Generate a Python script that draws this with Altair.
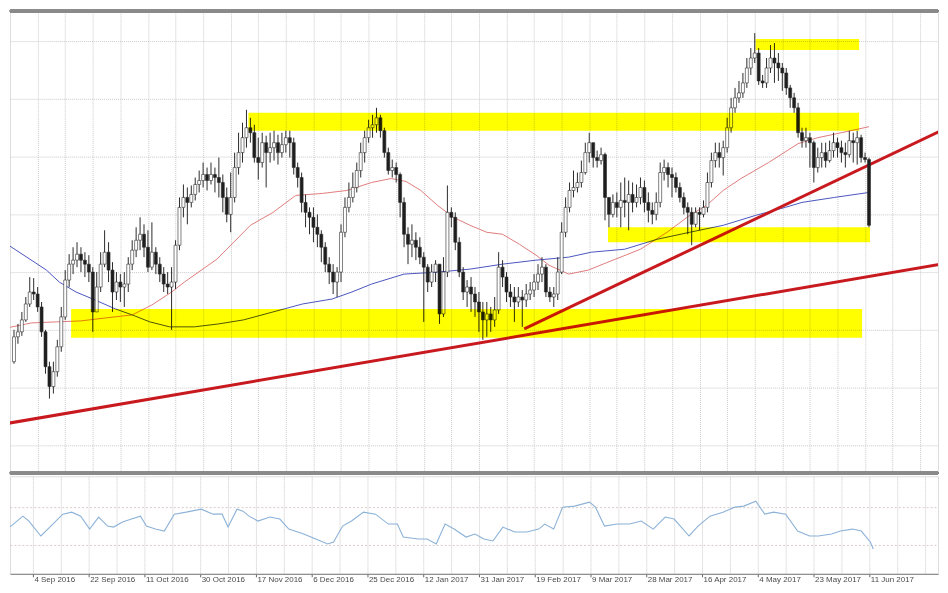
import altair as alt
import pandas as pd

# ---------------- data ----------------
FIRST_BAR = -6          # bar index of the first visible candle (0 = "4 Sep 2016")
FIRST_OPEN = 140

close = [
    165, 170, 182, 198, 210, 208, 195, 170, 135, 115,
    130, 155, 185, 222, 238, 242, 248, 242, 238, 230,
    190, 215, 238, 250, 232, 210, 220, 215, 218, 238,
    252, 262, 268, 255, 235, 250, 238, 228, 218, 215,
    220, 257, 295, 305, 300, 308, 318, 322, 328, 322,
    328, 325, 320, 305, 288, 305, 335, 350, 365, 375,
    370, 345, 340, 360, 350, 355, 360, 350, 358, 365,
    360, 335, 325, 300, 290, 285, 275, 268, 255, 238,
    230, 220, 230, 270, 295, 305, 315, 332, 350, 365,
    375, 378, 385, 372, 350, 332, 335, 328, 300, 268,
    258, 262, 255, 245, 235, 220, 230, 238, 188, 230,
    290, 285, 260, 230, 210, 215, 208, 200, 190, 182,
    188, 182, 192, 235, 225, 210, 205, 200, 205, 202,
    208, 212, 220, 228, 235, 210, 205, 208, 230, 270,
    295, 312, 315, 320, 330, 350, 360, 345, 342, 348,
    305, 288, 300, 295, 302, 300, 308, 300, 305, 315,
    300, 292, 288, 300, 330, 335, 328, 325, 315, 305,
    295, 290, 278, 290, 288, 295, 320, 342, 350, 345,
    355, 375, 395, 405, 410, 420, 435, 445, 450, 422,
    420, 435, 445, 440, 435, 430, 415, 405, 395, 370,
    362, 365, 360, 335, 345, 350, 342, 352, 360, 355,
    350, 348, 362, 360, 365, 345, 343, 277,
]
high = [
    172, 178, 190, 205, 225, 224, 215, 200, 172, 140,
    140, 162, 195, 232, 248, 255, 260, 255, 250, 247,
    235, 230, 250, 272, 260, 240, 230, 228, 230, 245,
    262, 275, 285, 278, 272, 280, 255, 245, 235, 230,
    235, 262, 305, 318, 315, 317, 325, 332, 340, 335,
    340, 335, 345, 328, 315, 330, 350, 370, 380, 393,
    385, 378, 365, 370, 367, 370, 372, 368, 370, 372,
    372, 365, 340, 330, 308, 295, 295, 288, 272, 260,
    245, 238, 235, 278, 305, 320, 330, 340, 360, 372,
    383, 388, 395, 388, 375, 355, 343, 340, 330, 305,
    275, 278, 270, 265, 250, 238, 238, 242, 238, 245,
    317, 295, 290, 265, 235, 222, 225, 215, 210, 200,
    200, 195, 205, 250, 242, 230, 218, 215, 215, 212,
    218, 220, 228, 238, 245, 238, 215, 215, 245, 280,
    305, 320, 332, 330, 342, 360, 370, 360, 352, 355,
    350, 305, 308, 310, 320, 325, 322, 320, 318, 325,
    322, 310, 300, 310, 340, 343, 340, 335, 330, 320,
    310, 300, 295, 295, 295, 302, 330, 350, 360, 360,
    362, 385, 405, 415, 422, 430, 445, 455, 470, 455,
    428, 445, 458, 460, 450, 440, 435, 418, 410, 400,
    375, 375, 370, 362, 355, 360, 360, 362, 370, 365,
    362, 360, 372, 370, 372, 368, 350, 345,
]
low = [
    138, 158, 166, 180, 195, 202, 190, 165, 128, 103,
    108, 125, 150, 182, 215, 228, 235, 230, 225, 220,
    170, 195, 210, 235, 220, 190, 202, 200, 195, 210,
    232, 245, 252, 245, 230, 232, 228, 220, 210, 208,
    172, 213, 252, 285, 278, 295, 302, 310, 315, 312,
    318, 310, 305, 290, 280, 270, 300, 328, 340, 355,
    360, 340, 323, 335, 315, 340, 342, 338, 345, 350,
    345, 328, 315, 290, 275, 268, 260, 255, 240, 230,
    218, 208, 205, 220, 265, 290, 300, 310, 325, 340,
    360, 365, 370, 365, 345, 328, 325, 320, 285, 255,
    238, 245, 242, 238, 180, 210, 215, 220, 178, 185,
    225, 275, 252, 225, 202, 195, 190, 185, 170, 162,
    165, 170, 175, 188, 215, 200, 195, 180, 195, 175,
    195, 202, 205, 212, 220, 205, 200, 195, 202, 228,
    265, 290, 305, 310, 315, 328, 340, 335, 335, 338,
    282, 275, 285, 285, 275, 285, 272, 290, 295, 298,
    290, 280, 278, 282, 295, 322, 315, 305, 310, 300,
    288, 268, 257, 275, 272, 285, 290, 315, 335, 335,
    327, 350, 370, 390, 400, 405, 415, 428, 440, 418,
    415, 415, 430, 420, 422, 412, 408, 395, 390, 365,
    355, 355, 335, 320, 330, 335, 335, 340, 345, 345,
    340, 335, 345, 340, 338, 340, 340, 275,
]

date_labels = [
    "4 Sep 2016", "22 Sep 2016", "11 Oct 2016", "30 Oct 2016", "17 Nov 2016",
    "6 Dec 2016", "25 Dec 2016", "12 Jan 2017", "31 Jan 2017", "19 Feb 2017",
    "9 Mar 2017", "28 Mar 2017", "16 Apr 2017", "4 May 2017", "23 May 2017",
    "11 Jun 2017",
]
BARS_PER_LABEL = 14

# fast moving average (red)
fast_ma_bar = [-7.75, -1.5, 4.75, 11, 17.25, 24, 29, 34, 37.25, 45.5,
               54, 59.75, 65.5, 72.25, 78.5, 84.75, 89.75, 93.5, 97.25, 101.5,
               105.5, 109.75, 114, 118, 122.25, 126.5, 129.75, 134.75, 139.75, 144.75,
               153, 159.75, 165.5, 169.75, 174, 178.5, 185.5, 193, 198, 204, 211]
fast_ma_val = [174, 179, 180, 181, 184, 187, 197, 210, 220, 243,
               277, 290, 307, 309, 312, 320, 324, 321, 312, 297,
               285, 277, 270, 268, 258, 247, 237, 228, 232, 240,
               253, 270, 287, 297, 312, 324, 340, 359, 365, 370, 376]

# slow moving average (blue)
slow_ma_bar = [-7.75, -2.75, 2.25, 5.5, 9.75, 14, 19.75, 24, 28.5, 33.5,
               39.75, 46, 52.25, 59.75, 67.25, 74.75, 79.75, 84.75, 93, 101.5,
               109.75, 118, 126.5, 134.75, 140.5, 149, 157.25, 165.5, 174, 182.25,
               189.75, 194, 202.25, 211]
slow_ma_val = [258, 245, 232, 220, 210, 203, 193, 187, 180, 175,
               175, 178, 182, 190, 198, 203, 210, 218, 228, 230,
               233, 238, 242, 245, 250, 253, 263, 270, 277, 287,
               295, 300, 305, 310]

# trend lines
trend_start_bar = [-7.75, 123.5]
trend_start_val = [78, 173]
trend_end_bar = [229.25, 229.25]
trend_end_val = [238, 372]

# highlighted (yellow) zones
zone_from_bar = [182.25, 53.5, 144.75, 8.5]
zone_to_bar = [208.5, 208.5, 211.25, 209.25]
zone_low = [453, 372, 260, 164]
zone_high = [464, 390, 275, 193]

# oscillator (lower panel)
rsi_bar = [-7.75, -5.5, -2.5, -1, 2, 4.25, 7.5, 9.75, 12, 14.25,
           16.5, 18.75, 20.25, 22.5, 24.75, 27, 28.5, 30.75, 33, 35.5,
           38.5, 42.25, 45.25, 47.5, 49, 51.25, 52.75, 54.25, 56.5, 59.5,
           62, 64.25, 68, 71, 74, 75.5, 77.75, 80, 83, 86,
           89.25, 91.5, 93, 96.75, 99, 101.25, 103.5, 105.75, 108.75, 111,
           113.25, 115.5, 118, 121, 124, 127, 128.5, 130.75, 133, 136,
           139.75, 141.25, 143.5, 146.75, 149.75, 152.75, 155.75, 158.75, 161, 164.75,
           167, 170, 173.25, 176.25, 178.5, 181.5, 183.75, 186, 189, 192,
           195, 197.25, 200.5, 202.75, 205.75, 208, 210.25, 211]
rsi_val = [43.7, 50.0, 60.5, 55.3, 39.5, 48.9, 62.6, 64.7, 60.5, 46.8,
           59.5, 50.0, 48.9, 54.2, 57.4, 60.5, 50.0, 46.8, 44.7, 62.6,
           64.7, 67.9, 62.6, 62.6, 48.9, 67.9, 65.8, 60.5, 55.3, 59.5,
           57.4, 46.8, 41.6, 36.3, 31.1, 33.2, 50.0, 55.3, 64.7, 62.6,
           52.1, 52.1, 38.4, 36.3, 36.3, 31.1, 52.1, 46.8, 38.4, 41.6,
           36.3, 34.2, 48.9, 43.7, 43.7, 46.8, 52.1, 46.8, 70.0, 71.1,
           75.3, 70.0, 50.0, 52.1, 52.1, 55.3, 46.8, 59.5, 57.4, 39.5,
           50.0, 60.5, 64.7, 70.0, 71.1, 76.3, 62.6, 64.7, 62.6, 44.7,
           39.5, 39.5, 41.6, 44.7, 46.8, 44.7, 33.2, 25.8]
rsi_levels = [30, 70]

# ---------------- tables ----------------
bars = pd.DataFrame(list(zip(close, high, low)), columns=["close", "high", "low"])
bars["bar"] = list(range(FIRST_BAR, FIRST_BAR + len(bars)))
bars["open"] = [FIRST_OPEN] + list(bars["close"][:-1])
bars["top"] = bars[["high", "open", "close"]].max(axis=1)
bars["bottom"] = bars[["low", "open", "close"]].min(axis=1)
bars["dir"] = ["up" if c > o else "down" for c, o in zip(bars["close"], bars["open"])]

fast = pd.DataFrame(list(zip(fast_ma_bar, fast_ma_val)), columns=["bar", "price"])
slow = pd.DataFrame(list(zip(slow_ma_bar, slow_ma_val)), columns=["bar", "price"])
trends = pd.DataFrame(list(zip(trend_start_bar, trend_start_val, trend_end_bar, trend_end_val)),
                      columns=["b0", "p0", "b1", "p1"])
zones = pd.DataFrame(list(zip(zone_from_bar, zone_to_bar, zone_low, zone_high)),
                     columns=["b0", "b1", "lo", "hi"])
rsi = pd.DataFrame(list(zip(rsi_bar, rsi_val)), columns=["bar", "rsi"])

# ---------------- scales / axes ----------------
X_SCALE = alt.Scale(domain=[-5.75, 227.25], nice=False, zero=False)
Y_MAIN = alt.Scale(domain=[28, 492], nice=False, zero=False)
Y_LOW = alt.Scale(domain=[-0.5, 102.7], nice=False, zero=False)

GRID_BARS = list(range(0, 228, 7))
PRICE_GRID = [462 - 29 * k for k in range(15)]
GRID_COLOR = "#c9c9c9"

ax_x_main = alt.Axis(values=GRID_BARS, grid=True, labels=False, ticks=False, domain=False,
                     title=None, gridColor=GRID_COLOR, gridDash=[1, 1], gridWidth=1,
                     minExtent=0, maxExtent=0)
ax_y_main = alt.Axis(values=PRICE_GRID, grid=True, labels=False, ticks=False, domain=False,
                     title=None, gridColor=GRID_COLOR, gridDash=[1, 1], gridWidth=1,
                     minExtent=0, maxExtent=0)

label_array = "[" + ",".join("'" + d + "'" for d in date_labels) + "]"
last_label_bar = BARS_PER_LABEL * (len(date_labels) - 1)
label_test = f"datum.value % {BARS_PER_LABEL} === 0 && datum.value <= {last_label_bar}"
ax_x_low = alt.Axis(
    values=GRID_BARS, grid=True, gridColor=GRID_COLOR, gridDash=[1, 1], gridWidth=1,
    labelExpr=f"{label_test} ? {label_array}[round(datum.value / {BARS_PER_LABEL})] : ''",
    labelAlign="left", labelBaseline="top", labelOffset=1, labelPadding=-1,
    labelFontSize=8, labelColor="#4a4a4a", labelFont="Liberation Sans",
    labelFlush=False, labelOverlap=False, labelBound=False,
    tickSize=3, tickColor={"condition": {"test": label_test, "value": "#666666"},
                           "value": "transparent"},
    domainColor="#7a7a7a", domainWidth=1, title=None,
)
ax_y_low = alt.Axis(values=rsi_levels, grid=True, labels=False, ticks=False, domain=False,
                    title=None, gridColor="#d9caca", gridDash=[2, 2], gridWidth=1,
                    minExtent=0, maxExtent=0)

X_MAIN = alt.X("bar:Q", scale=X_SCALE, axis=ax_x_main)

# ---------------- main panel ----------------
fast_line = alt.Chart(fast).mark_line(color="#e07c7c", strokeWidth=1, clip=True).encode(
    x=X_MAIN, y=alt.Y("price:Q", scale=Y_MAIN, axis=ax_y_main))
slow_line = alt.Chart(slow).mark_line(color="#4b55c0", strokeWidth=1, clip=True).encode(
    x=X_MAIN, y=alt.Y("price:Q", scale=Y_MAIN, axis=ax_y_main))
trend_lines = alt.Chart(trends).mark_rule(color="#c8191f", strokeWidth=3, clip=True).encode(
    x=alt.X("b0:Q", scale=X_SCALE, axis=ax_x_main), x2="b1:Q",
    y=alt.Y("p0:Q", scale=Y_MAIN, axis=ax_y_main), y2="p1:Q")
wicks = alt.Chart(bars).mark_rule(color="#2b2b2b", strokeWidth=1, clip=True).encode(
    x=X_MAIN, y=alt.Y("bottom:Q", scale=Y_MAIN, axis=ax_y_main), y2="top:Q")
bodies = alt.Chart(bars).mark_bar(size=3, stroke="#2b2b2b", strokeWidth=0.6, clip=True).encode(
    x=X_MAIN, y=alt.Y("open:Q", scale=Y_MAIN, axis=ax_y_main), y2="close:Q",
    color=alt.Color("dir:N", scale=alt.Scale(domain=["up", "down"], range=["#ffffff", "#1e1e1e"]),
                    legend=None))
# yellow highlight zones, multiplied over the price drawing (no clip: a clip group
# would isolate the blend)
zone_rects = alt.Chart(zones).mark_rect(color="#ffff00", blend="multiply").encode(
    x=alt.X("b0:Q", scale=X_SCALE, axis=ax_x_main), x2="b1:Q",
    y=alt.Y("lo:Q", scale=Y_MAIN, axis=ax_y_main), y2="hi:Q")
top_border = alt.Chart(bars).mark_rule(color="#8a8a8a", strokeWidth=3).encode(
    y=alt.datum(Y_MAIN.domain[1]))
bottom_border = alt.Chart(bars).mark_rule(color="#8a8a8a", strokeWidth=3).encode(
    y=alt.datum(Y_MAIN.domain[0]))

main = alt.layer(fast_line, slow_line, trend_lines, wicks, bodies, zone_rects,
                 top_border, bottom_border).properties(width=932, height=464)

# ---------------- lower panel ----------------
lower = alt.Chart(rsi).mark_line(color="#8cb2d8", strokeWidth=1.1, clip=True).encode(
    x=alt.X("bar:Q", scale=X_SCALE, axis=ax_x_low),
    y=alt.Y("rsi:Q", scale=Y_LOW, axis=ax_y_low),
).properties(width=932, height=98)

chart = alt.vconcat(main, lower, spacing=0).properties(padding=0).configure_view(
    stroke=None).configure(background="#ffffff")

chart.save("out.html", embed_options={"renderer": "svg", "actions": False})
